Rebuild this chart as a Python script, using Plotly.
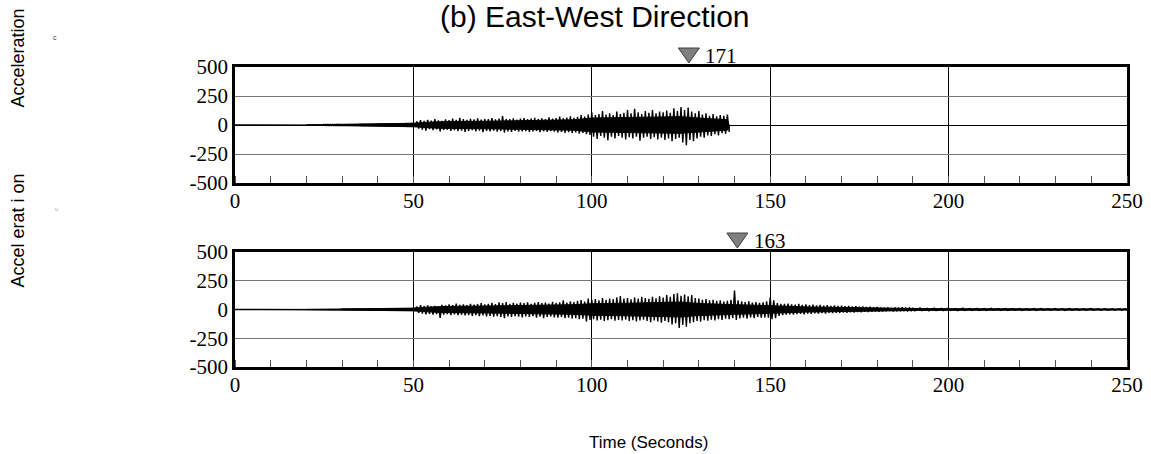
import plotly.graph_objects as go

W, H = 1151, 454

# ---------------- data ----------------
x_ticks = [0, 50, 100, 150, 200, 250]
y_ticks = [-500, -250, 0, 250, 500]
y_tick_labels = ["-500", "-250", "0", "250", "500"]

# Record 1: quiet onset (time, +/- amplitude)
rec1_pre_t = [0, 20, 25, 30, 35, 40, 45, 48, 50]
rec1_pre_amp = [0, 2, 4, 7, 10, 12, 15, 18, 22]
# Record 1: 1-second peak samples from t = 51 s
rec1_start = 51
rec1_upper = [30, 42, 35, 45, 38, 50, 40, 36, 48, 42,
              55, 45, 62, 50, 44, 52, 48, 58, 46, 52,
              50, 60, 48, 55, 78, 52, 50, 58, 47, 55,
              60, 50, 56, 62, 52, 58, 50, 66, 55, 60,
              72, 58, 64, 75, 62, 70, 85, 72, 90, 110,
              85, 95, 120, 90, 100, 85, 115, 95, 105, 130,
              100, 140, 110, 95, 120, 105, 130, 100, 115, 110,
              125, 105, 145, 120, 155, 130, 150, 115, 100, 120,
              90, 100, 80, 95, 75, 85, 80, 90]
rec1_lower = [30, 40, 48, 35, 45, 38, 55, 42, 40, 50,
              45, 52, 48, 60, 50, 45, 55, 48, 62, 50,
              55, 48, 58, 52, 65, 55, 60, 50, 58, 55,
              52, 60, 55, 50, 62, 55, 60, 52, 58, 65,
              60, 68, 62, 70, 65, 75, 68, 80, 85, 100,
              120, 95, 110, 130, 100, 115, 95, 110, 125, 105,
              115, 100, 135, 110, 100, 120, 105, 125, 110, 130,
              115, 140, 120, 110, 150, 175, 130, 140, 115, 100,
              110, 90, 95, 80, 90, 70, 75, 60]
rec1_end = 138.5
# Record 1: dense core half-width (time, amplitude)
rec1_core_t = [20, 30, 40, 50, 55, 60, 70, 80, 90, 95, 100, 105, 110, 115, 120, 125,
               130, 135, 138, 138.5]
rec1_core = [1, 4, 8, 15, 25, 30, 32, 35, 38, 45, 60, 62, 65, 68, 70, 72,
             60, 50, 45, 0]

# Record 2: quiet onset
rec2_pre_t = [0, 20, 30, 40, 45, 50]
rec2_pre_amp = [0, 2, 4, 8, 10, 18]
# Record 2: 1-second peak samples from t = 51 s to 180 s
rec2_start = 51
rec2_upper = [25, 38, 30, 35, 28, 32, 30, 40, 35, 45,
              38, 52, 40, 45, 38, 50, 42, 48, 55, 45,
              50, 58, 48, 62, 55, 65, 50, 58, 52, 60,
              55, 62, 50, 58, 64, 55, 60, 52, 66, 58,
              62, 80, 60, 70, 65, 75, 82, 70, 95, 85,
              90, 80, 100, 85, 95, 90, 105, 118, 95, 100,
              88, 105, 95, 110, 100, 92, 110, 98, 115, 105,
              125, 110, 135, 140, 120, 130, 115, 125, 100, 95,
              85, 90, 80, 85, 75, 80, 70, 75, 85, 165,
              80, 70, 65, 72, 60, 65, 58, 62, 70, 105,
              80, 55, 50, 48, 52, 45, 42, 48, 40, 44,
              38, 42, 36, 40, 34, 38, 32, 35, 30, 33,
              28, 30, 26, 28, 24, 26, 22, 24, 20, 22]
rec2_lower = [28, 35, 42, 38, 45, 40, 72, 45, 40, 48,
              42, 50, 45, 52, 48, 55, 50, 58, 52, 60,
              55, 62, 58, 65, 75, 60, 65, 58, 62, 68,
              60, 65, 58, 70, 62, 75, 65, 60, 68, 72,
              65, 75, 70, 80, 75, 85, 80, 105, 90, 85,
              95, 88, 100, 92, 85, 98, 90, 95, 88, 100,
              92, 105, 95, 88, 100, 110, 95, 105, 115, 100,
              110, 130, 120, 160, 135, 150, 120, 110, 100, 105,
              92, 98, 88, 95, 85, 90, 80, 85, 75, 90,
              78, 72, 80, 68, 75, 65, 70, 68, 72, 85,
              75, 55, 48, 45, 42, 45, 40, 38, 42, 36,
              38, 34, 36, 32, 35, 30, 32, 28, 30, 26,
              28, 24, 26, 22, 24, 20, 22, 20, 18, 20]
# Record 2: late coda (time, upper, lower magnitude)
rec2_tail_t = [181, 182, 183, 184, 185, 186, 187, 188, 189, 190, 192, 194, 196, 198, 200,
               202, 204, 206, 208, 210, 212, 214, 216, 218, 220, 222, 224, 226, 228, 230,
               232, 234, 236, 238, 240, 242, 244, 246, 248, 249.5]
rec2_tail_up = [18, 14, 17, 13, 16, 12, 18, 12, 14, 11, 13, 10, 12, 10, 11,
                9, 11, 9, 10, 8, 10, 8, 9, 8, 9, 7, 9, 8, 7, 8,
                7, 8, 6, 7, 8, 6, 7, 6, 7, 6]
rec2_tail_lo = [17, 15, 13, 16, 12, 14, 11, 13, 10, 12, 10, 11, 9, 10, 9,
                10, 8, 9, 8, 9, 7, 8, 8, 7, 8, 7, 8, 7, 6, 7,
                8, 6, 7, 6, 7, 6, 6, 7, 6, 6]
# Record 2: dense core half-width
rec2_core_t = [20, 30, 40, 50, 55, 60, 70, 80, 90, 95, 100, 105, 110, 115, 120, 125, 130,
               135, 140, 145, 150, 155, 160, 170, 180, 190, 200, 225, 250]
rec2_core = [1, 3, 6, 12, 22, 27, 30, 33, 35, 42, 50, 55, 55, 58, 60, 65, 52,
             45, 42, 38, 35, 28, 22, 16, 12, 9, 7, 5, 5]

# Peak markers
peak_times = [127.2, 140.8]
peak_labels = ["171", "163"]


# ---------------- build min/max traces ----------------
def minmax_trace(pre_t, pre_amp, start, up, lo, tail_t=(), tail_up=(), tail_lo=(), end=None):
    t, v = [], []
    for tt, a in zip(pre_t, pre_amp):
        t += [tt, tt + 0.5]
        v += [a, -a]
    for i in range(len(up)):
        t += [start + i, start + i + 0.5]
        v += [up[i], -lo[i]]
    for tt, a, b in zip(tail_t, tail_up, tail_lo):
        t += [tt, tt + 0.5]
        v += [a, -b]
    if end is not None:
        t.append(end)
        v.append(0)
    return t, v


def dense_pre(pre_t, pre_amp):
    # quiet onset drawn at 0.5 s steps with the read amplitude of each segment
    t, a = [], []
    for k in range(len(pre_t) - 1):
        s = pre_t[k]
        while s < pre_t[k + 1]:
            t.append(s)
            a.append(pre_amp[k] if k > 0 else 0)
            s += 0.5 if k > 0 else (pre_t[k + 1] - pre_t[k])
    return t, a


p1t, p1a = dense_pre(rec1_pre_t, rec1_pre_amp)
p2t, p2a = dense_pre(rec2_pre_t, rec2_pre_amp)
t1, v1 = minmax_trace(p1t, p1a, rec1_start, rec1_upper, rec1_lower, end=rec1_end)
t2, v2 = minmax_trace(p2t, p2a, rec2_start, rec2_upper, rec2_lower,
                      rec2_tail_t, rec2_tail_up, rec2_tail_lo)

fig = go.Figure()
for ct, cv, t, v, xa, ya in [(rec1_core_t, rec1_core, t1, v1, "x", "y"),
                             (rec2_core_t, rec2_core, t2, v2, "x2", "y2")]:
    # dense core band
    fig.add_trace(go.Scatter(x=ct, y=cv, mode="lines", line=dict(color="black", width=1),
                             xaxis=xa, yaxis=ya, showlegend=False, hoverinfo="skip"))
    fig.add_trace(go.Scatter(x=ct, y=[-a for a in cv], mode="lines",
                             line=dict(color="black", width=1), fill="tonexty",
                             fillcolor="black",
                             xaxis=xa, yaxis=ya, showlegend=False, hoverinfo="skip"))
    # peak spikes
    fig.add_trace(go.Scatter(x=t, y=v, mode="lines", line=dict(color="black", width=1.4),
                             xaxis=xa, yaxis=ya, showlegend=False, hoverinfo="skip"))


def px_x(p):
    return p / W


def px_y(p):
    return 1 - p / H


x0px, x1px = 235, 1127
plot_tops = [67, 252]
plot_bots = [183, 367]
xdom = [px_x(x0px), px_x(x1px)]

# peak markers: triangle placed at the peak time via the x axis scale
tri_w_s = 10.5 * 250 / (x1px - x0px)
for i, xa in enumerate(["x", "x2"]):
    top = px_y(plot_tops[i] - 19)
    bot = px_y(plot_tops[i] - 4)
    tx = peak_times[i]
    fig.add_shape(type="path", xref=xa, yref="paper",
                  path=f"M {tx - tri_w_s} {top} L {tx + tri_w_s} {top} L {tx} {bot} Z",
                  fillcolor="#7f7f7f", line=dict(color="#404040", width=1))
    fig.add_annotation(x=tx + 4.0, y=px_y(plot_tops[i] - 11), xref=xa, yref="paper",
                       text=peak_labels[i], showarrow=False, xanchor="left", yanchor="middle",
                       font=dict(family="Liberation Serif", size=21, color="black"))

serif = dict(family="Liberation Serif", size=21, color="black")

xcommon = dict(range=[0, 250], tickvals=x_ticks, ticks="", showgrid=True, gridcolor="black",
               gridwidth=1, showline=True, mirror=True, linecolor="black", linewidth=2.5,
               zeroline=False, tickfont=serif, ticklabelstandoff=-3, automargin=False,
               minor=dict(dtick=10, ticks="inside", ticklen=7, tickcolor="#555555",
                          tickwidth=1, showgrid=False))
ycommon = dict(range=[-500, 500], tickvals=y_ticks, ticktext=y_tick_labels, ticks="",
               showgrid=True, gridcolor="#777777",
               gridwidth=1, showline=True, mirror=True, linecolor="black", linewidth=2.5,
               zeroline=True, zerolinecolor="black", zerolinewidth=1, tickfont=serif,
               ticklabelstandoff=0, automargin=False)

fig.update_layout(
    width=W, height=H, autosize=False,
    margin=dict(l=0, r=0, t=0, b=0, autoexpand=False),
    paper_bgcolor="white", plot_bgcolor="white",
    xaxis=dict(domain=xdom, anchor="y", **xcommon),
    yaxis=dict(domain=[px_y(plot_bots[0]), px_y(plot_tops[0])], anchor="x", **ycommon),
    xaxis2=dict(domain=xdom, anchor="y2", **xcommon),
    yaxis2=dict(domain=[px_y(plot_bots[1]), px_y(plot_tops[1])], anchor="x2", **ycommon),
)

sans = "Liberation Sans"
fig.add_annotation(x=px_x(595), y=px_y(16), xref="paper", yref="paper",
                   text="(b) East-West Direction", showarrow=False,
                   xanchor="center", yanchor="middle",
                   font=dict(family=sans, size=30, color="black"))
fig.add_annotation(x=px_x(17.5), y=px_y(58), xref="paper", yref="paper",
                   text="Acceleration", showarrow=False, textangle=-90,
                   xanchor="center", yanchor="middle",
                   font=dict(family=sans, size=18, color="black"))
fig.add_annotation(x=px_x(17.5), y=px_y(231), xref="paper", yref="paper",
                   text="Accel erat i on", showarrow=False, textangle=-90,
                   xanchor="center", yanchor="middle",
                   font=dict(family=sans, size=18, color="black"))
fig.add_annotation(x=px_x(55), y=px_y(38), xref="paper", yref="paper",
                   text="c", showarrow=False, xanchor="center", yanchor="middle",
                   font=dict(family=sans, size=7, color="#333333"))
fig.add_annotation(x=px_x(56), y=px_y(210), xref="paper", yref="paper",
                   text="c", showarrow=False, xanchor="center", yanchor="middle",
                   textangle=-90,
                   font=dict(family=sans, size=6, color="#999999"))
fig.add_annotation(x=px_x(648), y=px_y(442), xref="paper", yref="paper",
                   text="Time (Seconds)", showarrow=False,
                   xanchor="center", yanchor="middle",
                   font=dict(family=sans, size=17, color="black"))

fig.write_html("out.html", config={"displayModeBar": False},
               post_script="document.body.style.margin='0';document.body.style.overflow='hidden';")
